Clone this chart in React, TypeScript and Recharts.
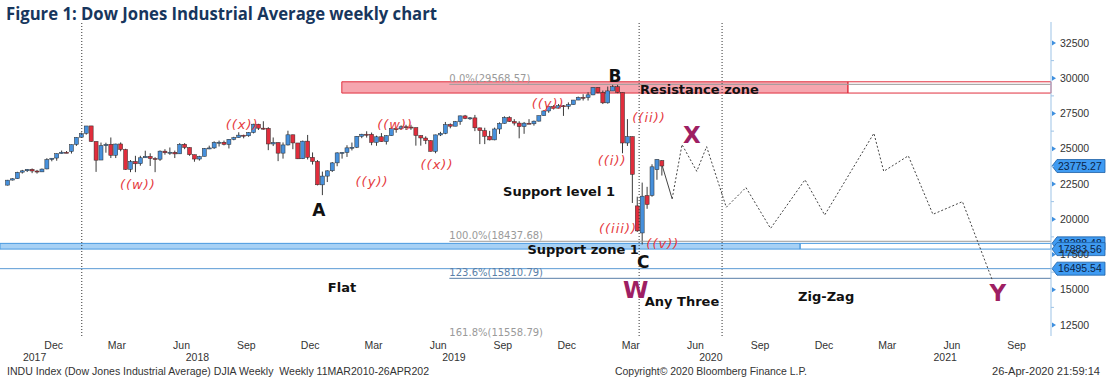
import React from 'react';
import {
  ComposedChart,
  Bar,
  Line,
  XAxis,
  YAxis,
  ReferenceLine,
  ReferenceArea,
  ReferenceDot,
} from 'recharts';

// week index 0 = Friday 5 Jan 2018, one candle per week
const FIRST_WEEK = -13;
const opens = [
  22420, 22780, 22880, 23340, 23440, 23540, 23420, 23360, 23570, 24250, 24340, 24660, 24750,
  24810, 25310, 25820, 26100, 26620, 25520, 24200, 25220, 25320, 24540, 25340, 24950, 23540,
  24100, 23940, 24360, 24460, 24310, 24260, 24830, 24720, 24750, 24640, 25320, 25090, 24580,
  24270, 24460, 25020, 25060, 25450, 25460, 25310, 25670, 25790, 25960, 25920, 26150, 26740,
  26460, 26450, 25340, 25440, 24690, 25270, 25990, 25410, 24290, 25540, 24390, 24100, 22440,
  23060, 23440, 24000, 24700, 24740, 25060, 25110, 25880, 26030, 26030, 25450, 25850, 25500,
  25930, 26420, 26410, 26560, 26540, 26500, 25940, 25760, 25580, 24810, 25980, 26090, 26720,
  26600, 26920, 27330, 27150, 27190, 26480, 26290, 25890, 25630, 26400, 26800, 27220, 26930,
  26820, 26570, 26810, 26770, 26960, 27350, 27680, 28000, 27880, 28050, 28010, 28130, 28455,
  28650, 28630, 28820, 29350, 28990, 28256, 29100, 29400, 28992, 25409, 25865, 20948, 19028,
  21678, 21693, 23516, 24154,
];
const highs = [
  22790, 22905, 23368, 23500, 23565, 23602, 23500, 23600, 24330, 24330, 24670, 24876, 24840,
  25300, 25810, 26150, 26617, 26620, 25520, 25440, 25430, 25800, 25360, 25450, 25000, 24200,
  24500, 24500, 24860, 24680, 24400, 24880, 24970, 25090, 24870, 25400, 25400, 25100, 24580,
  24500, 25050, 25220, 25530, 25580, 25580, 25690, 25850, 26170, 26000, 26180, 26770, 26770,
  26950, 26530, 25800, 25450, 25450, 26280, 26000, 25410, 25580, 25980, 24740, 24200, 23380,
  23470, 24060, 24750, 24760, 25250, 25440, 25900, 26060, 26240, 26150, 25930, 26110, 25950,
  26480, 26490, 26660, 26700, 26700, 26500, 25950, 25880, 25600, 26000, 26200, 26900, 26800,
  26970, 27350, 27400, 27250, 27400, 26500, 26490, 26270, 26500, 26870, 27300, 27310, 27100,
  26950, 26900, 27100, 27000, 27350, 27700, 28030, 28090, 28175, 28100, 28290, 28460, 28700,
  28870, 29010, 29370, 29370, 29130, 29410, 29570, 29570, 28992, 27102, 25865, 21600, 22600,
  22300, 23900, 24264, 24200,
];
const lows = [
  22400, 22750, 22860, 23240, 23350, 23270, 23240, 23350, 23540, 24110, 24150, 24660, 24690,
  24660, 25200, 25800, 26000, 25490, 23360, 24200, 24720, 24340, 24340, 24820, 23510, 23340,
  23340, 23800, 24360, 23780, 23340, 24140, 24580, 24570, 24340, 24630, 24970, 24500, 24080,
  24160, 24460, 24970, 24990, 25160, 25240, 25020, 25600, 25780, 25740, 25850, 26090, 26330,
  26360, 24900, 25190, 24122, 24300, 25230, 24970, 24270, 24270, 24240, 23880, 22400, 21712,
  22640, 23350, 23760, 24300, 24420, 24880, 25050, 25750, 25790, 25250, 25210, 25490, 25300,
  25920, 26140, 26350, 26330, 26340, 25220, 25220, 25330, 24810, 24680, 25900, 26030, 26450,
  26600, 26700, 27100, 27050, 26250, 25330, 25330, 25590, 25600, 26050, 26780, 26900, 26650,
  25740, 26060, 26760, 26640, 26930, 27350, 27550, 27780, 27870, 27330, 27800, 28130, 28450,
  28420, 28420, 28800, 28930, 28170, 28200, 29100, 28940, 24681, 25200, 21154, 19100, 18213,
  20740, 21600, 22800, 23100,
];
const closes = [
  22773, 22871, 23329, 23434, 23539, 23422, 23358, 23558, 24231, 24329, 24651, 24754, 24719,
  25295, 25803, 26071, 26616, 25521, 24190, 25219, 25309, 24538, 25335, 24946, 23533, 24103,
  23933, 24360, 24463, 24311, 24263, 24831, 24715, 24753, 24635, 25317, 25090, 24580, 24271,
  24456, 25019, 25058, 25451, 25463, 25313, 25669, 25790, 25965, 25917, 26154, 26743, 26458,
  26447, 25340, 25444, 24688, 25271, 25989, 25413, 24286, 25538, 24389, 24101, 22445, 23062,
  23433, 23996, 24706, 24737, 25064, 25106, 25883, 26031, 26026, 25450, 25849, 25502, 25929,
  26425, 26412, 26559, 26543, 26505, 25942, 25764, 25585, 24815, 25984, 26090, 26719, 26600,
  26922, 27332, 27154, 27192, 26485, 26287, 25886, 25629, 26403, 26797, 27220, 26935, 26820,
  26573, 26817, 26770, 26958, 27347, 27681, 28005, 27876, 28051, 28015, 28135, 28455, 28645,
  28634, 28824, 29348, 28990, 28256, 29102, 29398, 28992, 25409, 25865, 23186, 19174, 21637,
  21053, 23719, 24242, 23775.27,
];

// projected path after the last candle
const projWeeks = [122, 124, 127, 129, 133, 137, 142, 149, 153, 163, 165, 170, 175, 181, 187];
const projValues = [
  21450, 25300, 23400, 25150, 20850, 22250, 19350, 22800, 20300, 26100, 23400, 24500, 20350,
  21250, 15750,
];

const monthTicks = [
  '2017-12-10', '2018-03-10', '2018-06-10', '2018-09-10', '2018-12-10', '2019-03-10',
  '2019-06-10', '2019-09-10', '2019-12-10', '2020-03-10', '2020-06-10', '2020-09-10',
  '2020-12-10', '2021-03-10', '2021-06-10', '2021-09-10',
];
const years = [2017, 2018, 2019, 2020, 2021];
const yTicks = [
  12500, 13750, 15000, 16250, 17500, 18750, 20000, 21250, 22500, 23750, 25000, 26250, 27500,
  28750, 30000, 31250, 32500,
];

const fibLabels = ['0.0%(29568.57)', '100.0%(18437.68)', '123.6%(15810.79)', '161.8%(11558.79)'];
const fibValues = [29568.57, 18437.68, 15810.79, 11558.79];
const fibColors = ['#9a9a9a', '#9a9a9a', '#5a7fa8', '#9a9a9a'];

const resistanceZone = [28950, 29750];
const supportZone = [17883.56, 18290];
const supportLine = 16495.54;
const flagLabels = ['18288.48', '17883.56', '16495.54', '23775.27'];
const flagValues = [18290, 17883.56, 16495.54, 23775.27];
const markerDates = ['2018-01-19', '2020-03-22', '2020-07-18'];

const waveNotes = [
  { text: '((w))', w: 13.4, v: 22500 },
  { text: '((x))', w: 34.6, v: 26755 },
  { text: '((y))', w: 61.0, v: 22713 },
  { text: '((w))', w: 65.7, v: 26755 },
  { text: '((x))', w: 74.2, v: 23918 },
  { text: '((y))', w: 96.8, v: 28245 },
  { text: '((i))', w: 109.8, v: 24202 },
  { text: '((ii))', w: 117.3, v: 27252 },
  { text: '((iii))', w: 111.0, v: 19379 },
  { text: '((v))', w: 120.1, v: 18316 },
];
const pointNotes = [
  { text: 'A', w: 50.2, v: 20656 },
  { text: 'B', w: 110.4, v: 30160 },
  { text: 'C', w: 116.1, v: 16968 },
];
const waveLetters = [
  { text: 'X', w: 126.0, v: 25975 },
  { text: 'W', w: 114.6, v: 14982 },
  { text: 'Y', w: 188.2, v: 14770 },
];
const textNotes = [
  { text: 'Support level 1', w: 99.0, v: 22004 },
  { text: 'Support zone 1', w: 103.9, v: 17890 },
  { text: 'Flat', w: 54.9, v: 15195 },
  { text: 'Any Three', w: 124.0, v: 14202 },
  { text: 'Zig-Zag', w: 153.3, v: 14557 },
];

const WEEK_MS = 7 * 864e5;
const toWeek = (d: string) => (Date.parse(d + 'T00:00:00Z') - Date.UTC(2018, 0, 5)) / WEEK_MS;
const X_MIN = -14.62;
const X_MAX = 199.0;
const Y_MIN = 11720;
const Y_MAX = 33990;

const resistanceFrom = toWeek('2019-01-24');
const resistanceTo = toWeek('2021-01-13');
const supportTo = toWeek('2020-11-06');
const fibFrom = toWeek('2019-06-26');

const BLUE = '#4690dc';
const RED = '#e12d3c';
const MONTHS = ['Jan', 'Feb', 'Mar', 'Apr', 'May', 'Jun', 'Jul', 'Aug', 'Sep', 'Oct', 'Nov', 'Dec'];
const AXIS_FONT = "'Liberation Sans', Arial, sans-serif";
const NOTE_FONT = "'DejaVu Sans', Verdana, sans-serif";

// build one table for candles + projection
const rowMap = new Map<number, any>();
opens.forEach((o, i) => {
  const w = FIRST_WEEK + i;
  rowMap.set(w, { w, o, h: highs[i], l: lows[i], c: closes[i] });
});
projWeeks.forEach((w, i) => {
  const r = rowMap.get(w) ?? { w };
  r.proj = projValues[i];
  rowMap.set(w, r);
});
rowMap.get(FIRST_WEEK + closes.length - 1).lead = closes[closes.length - 1];
rowMap.get(projWeeks[0]).lead = projValues[0];
const data = [...rowMap.values()].sort((a, b) => a.w - b.w);

const tickLabels = new Map<string, string>();
monthTicks.forEach((d) => tickLabels.set(toWeek(d).toFixed(3), MONTHS[Number(d.slice(5, 7)) - 1]));
years.forEach((y) => {
  const a = Math.max(toWeek(`${y}-01-01`), X_MIN);
  const b = Math.min(toWeek(`${y + 1}-01-01`), X_MAX);
  tickLabels.set(((a + b) / 2).toFixed(3), String(y));
});
const xTicks = [...tickLabels.keys()].map(Number);

const Candle = (props: any) => {
  const { x, y, width, height, payload } = props;
  if (!payload || payload.h == null) return <g />;
  const { o, h, l, c } = payload;
  const top = Math.min(y, y + height);
  const span = Math.abs(height);
  const py = (v: number) => top + ((h - v) / (h - l || 1)) * span;
  const cx = x + width / 2;
  const bodyTop = py(Math.max(o, c));
  const bodyH = Math.max(1, py(Math.min(o, c)) - bodyTop);
  return (
    <g>
      <line x1={cx} x2={cx} y1={top} y2={top + span} stroke="#3a3a3a" strokeWidth={1} />
      <rect x={cx - 2} y={bodyTop} width={4} height={bodyH} fill={c >= o ? BLUE : RED} stroke="#2b2b2b" strokeWidth={0.5} />
    </g>
  );
};

const XTick = ({ x, y, payload }: any) => {
  const label = tickLabels.get(Number(payload.value).toFixed(3)) ?? '';
  const isYear = /^\d{4}$/.test(label);
  return (
    <text x={x} y={y + (isYear ? 25 : 13)} textAnchor="middle" fontSize={10.5} fill="#333" fontFamily={AXIS_FONT}>
      {label}
    </text>
  );
};

const YTick = ({ x, y, payload }: any) => {
  const v = payload.value;
  const major = v % 2500 === 0;
  return (
    <g>
      {major ? (
        <polygon points={`${x + 1},${y - 2.5} ${x + 5},${y} ${x + 1},${y + 2.5}`} fill="#3d8fdf" />
      ) : (
        <line x1={x} x2={x + 3} y1={y} y2={y} stroke="#9dc3e6" />
      )}
      {major && (
        <text x={x + 9} y={y + 3.7} fontSize={10.5} fill="#333" fontFamily={AXIS_FONT}>
          {v}
        </text>
      )}
    </g>
  );
};

const Flag = ({ cx, cy, text }: any) => (
  <g>
    <polygon
      points={`${cx + 1},${cy} ${cx + 6},${cy - 6.5} ${cx + 54},${cy - 6.5} ${cx + 54},${cy + 6.5} ${cx + 6},${cy + 6.5}`}
      fill="#3f9bf2"
      stroke="#1d5fa5"
      strokeWidth={0.8}
    />
    <text x={cx + 7} y={cy + 3.6} fontSize={10.5} fill="#0b2447" fontFamily={AXIS_FONT}>
      {text}
    </text>
  </g>
);

const noteShape = (text: string, style: React.SVGProps<SVGTextElement>) => (p: any) => (
  <text x={p.cx} y={p.cy} dy="0.35em" textAnchor="middle" fontFamily={NOTE_FONT} {...style}>
    {text}
  </text>
);

const App = () => (
  <div style={{ position: 'absolute', left: 0, top: 0, width: 1114, height: 390, background: '#fff' }}>
    <ComposedChart width={1114} height={390} data={data} margin={{ top: 22, right: 0, bottom: 0, left: 0 }}>
      <XAxis
        dataKey="w"
        type="number"
        domain={[X_MIN, X_MAX]}
        allowDataOverflow
        ticks={xTicks}
        interval={0}
        tick={(p: any) => <XTick {...p} />}
        tickLine={false}
        axisLine={false}
        tickSize={0}
        tickMargin={0}
        height={54}
      />
      <YAxis
        orientation="right"
        type="number"
        domain={[Y_MIN, Y_MAX]}
        allowDataOverflow
        ticks={yTicks}
        interval={0}
        tick={(p: any) => <YTick {...p} />}
        tickLine={false}
        tickSize={0}
        tickMargin={0}
        axisLine={{ stroke: '#9dc3e6' }}
        width={63}
      />

      {markerDates.map((d) => (
        <ReferenceLine key={d} x={toWeek(d)} stroke="#333" strokeDasharray="1 2" />
      ))}

      <ReferenceArea x1={X_MIN} x2={supportTo} y1={supportZone[0]} y2={supportZone[1]} fill="#4fa3ec" fillOpacity={0.5} stroke="#4a9be0" />
      <ReferenceArea x1={supportTo} x2={X_MAX} y1={supportZone[0]} y2={supportZone[1]} fill="none" stroke="#4a9be0" />
      <ReferenceLine y={supportLine} stroke="#5b9bd5" />

      {fibValues.map((v, i) => (
        <ReferenceLine
          key={fibLabels[i]}
          segment={[{ x: fibFrom, y: v }, { x: X_MAX, y: v }]}
          stroke={fibColors[i]}
        />
      ))}

      <Bar dataKey={(d: any) => (d.h == null ? undefined : [d.l, d.h])} barSize={4} shape={Candle} isAnimationActive={false} />
      <Line dataKey="lead" stroke="#444" strokeWidth={1} dot={false} connectNulls isAnimationActive={false} />
      <Line dataKey="proj" stroke="#444" strokeWidth={1} strokeDasharray="2 2" dot={false} connectNulls isAnimationActive={false} />

      <ReferenceArea x1={resistanceFrom} x2={resistanceTo} y1={resistanceZone[0]} y2={resistanceZone[1]} fill="#ee4e60" fillOpacity={0.5} stroke="#e0303f" />
      <ReferenceArea x1={resistanceTo} x2={X_MAX} y1={resistanceZone[0]} y2={resistanceZone[1]} fill="none" stroke="#e0303f" />

      {fibValues.map((v, i) => (
        <ReferenceDot
          key={'fl' + i}
          x={fibFrom}
          y={v}
          r={0}
          ifOverflow="visible"
          shape={(p: any) => (
            <text x={p.cx} y={p.cy - 2.5} fontSize={10} fill={fibColors[i]} fontFamily={NOTE_FONT}>
              {fibLabels[i]}
            </text>
          )}
        />
      ))}

      {textNotes.map((n) => (
        <ReferenceDot key={n.text} x={n.w} y={n.v} r={0} ifOverflow="visible" shape={noteShape(n.text, { fontSize: 13, fontWeight: 700, fill: '#111' })} />
      ))}
      <ReferenceDot x={toWeek('2020-03-22') + 0.2} y={29238} r={0} ifOverflow="visible"
        shape={(p: any) => (
          <text x={p.cx} y={p.cy} dy="0.35em" fontFamily={NOTE_FONT} fontSize={13} fontWeight={700} fill="#111">
            Resistance zone
          </text>
        )}
      />
      {pointNotes.map((n) => (
        <ReferenceDot key={n.text} x={n.w} y={n.v} r={0} ifOverflow="visible" shape={noteShape(n.text, { fontSize: 17, fontWeight: 700, fill: '#111' })} />
      ))}
      {waveLetters.map((n) => (
        <ReferenceDot key={n.text} x={n.w} y={n.v} r={0} ifOverflow="visible" shape={noteShape(n.text, { fontSize: 23, fontWeight: 700, fill: '#9e1f63' })} />
      ))}
      {waveNotes.map((n, i) => (
        <ReferenceDot key={'wv' + i} x={n.w} y={n.v} r={0} ifOverflow="visible" shape={noteShape(n.text, { fontSize: 13, fontStyle: 'italic', fill: '#e53a40', letterSpacing: 1 })} />
      ))}

      {flagValues.map((v, i) => (
        <ReferenceDot key={flagLabels[i]} x={X_MAX} y={v} r={0} ifOverflow="visible" shape={(p: any) => <Flag cx={p.cx} cy={p.cy} text={flagLabels[i]} />} />
      ))}
    </ComposedChart>

    <svg width={1114} height={390} style={{ position: 'absolute', left: 0, top: 0, pointerEvents: 'none' }}>
      <text x={6} y={19.5} fontFamily="'Open Sans', sans-serif" fontWeight={700} fontSize={17.5} fill="#17365d" textLength={431} lengthAdjust="spacingAndGlyphs">
        Figure 1: Dow Jones Industrial Average weekly chart
      </text>
      <text x={7} y={375} fontFamily={AXIS_FONT} fontSize={10.5} fill="#333" textLength={422} lengthAdjust="spacingAndGlyphs" style={{ whiteSpace: 'pre' }}>
        INDU Index (Dow Jones Industrial Average) DJIA Weekly  Weekly 11MAR2010-26APR202
      </text>
      <text x={615} y={375} fontFamily={AXIS_FONT} fontSize={10.5} fill="#333" textLength={192} lengthAdjust="spacingAndGlyphs">
        Copyright© 2020 Bloomberg Finance L.P.
      </text>
      <text x={992} y={375} fontFamily={AXIS_FONT} fontSize={10.5} fill="#333" textLength={108} lengthAdjust="spacingAndGlyphs">
        26-Apr-2020 21:59:14
      </text>
    </svg>
  </div>
);

export default App;
